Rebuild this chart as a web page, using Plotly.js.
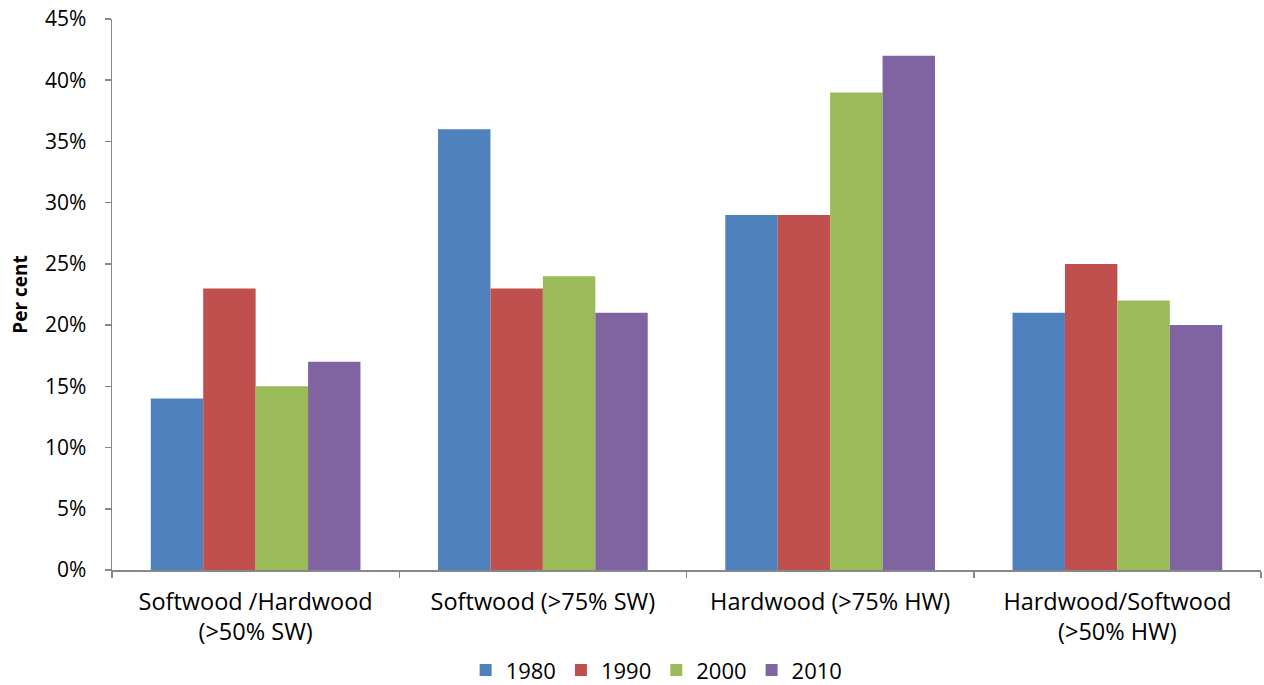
<!DOCTYPE html>
<html>
<head>
<meta charset="utf-8">
<script src="https://cdn.plot.ly/plotly-3.0.1.min.js"></script>
<style>
  html, body { margin: 0; padding: 0; background: #fff; }
  #chart { width: 1264px; height: 685px; }
</style>
</head>
<body>
<div id="chart"></div>
<script>
// Forest type shares by decade
const categories = [
  "Softwood /Hardwood<br>(>50% SW)",
  "Softwood (>75% SW)",
  "Hardwood (>75% HW)",
  "Hardwood/Softwood<br>(>50% HW)"
];
const years = ["1980", "1990", "2000", "2010"];
const values1980 = [14, 36, 29, 21];
const values1990 = [23, 23, 29, 25];
const values2000 = [15, 24, 39, 22];
const values2010 = [17, 21, 42, 20];
const yTicks = [0, 5, 10, 15, 20, 25, 30, 35, 40, 45];

const colors = ["#4F81BD", "#C0504D", "#9BBB59", "#8064A2"];
const series = [values1980, values1990, values2000, values2010];

const font = "Open Sans, Liberation Sans, sans-serif";
const ySize = 21;
const xSize = 23.5;
const legendSize = 22;

const traces = series.map((vals, i) => ({
  type: "bar",
  name: years[i],
  x: categories,
  y: vals,
  marker: { color: colors[i], line: { width: 0 } },
  hoverinfo: "x+y+name"
}));

const layout = {
  width: 1264,
  height: 685,
  margin: { l: 112, r: 3, t: 19, b: 115, autoexpand: false },
  paper_bgcolor: "#ffffff",
  plot_bgcolor: "#ffffff",
  barmode: "group",
  bargap: 0.27,
  bargroupgap: 0,
  font: { family: font, size: ySize, color: "#000" },
  xaxis: {
    type: "category",
    showline: true,
    linecolor: "#888888",
    linewidth: 1.5,
    ticks: "outside",
    tickson: "boundaries",
    ticklen: 6,
    tickcolor: "#888888",
    tickwidth: 1.5,
    showgrid: false,
    ticklabelstandoff: 10,
    tickfont: { family: font, size: xSize, color: "#000" },
    automargin: false
  },
  yaxis: {
    range: [0, 45],
    tickvals: yTicks,
    ticktext: yTicks.map(v => v + "%"),
    showline: true,
    linecolor: "#888888",
    linewidth: 1.5,
    ticks: "outside",
    ticklen: 6,
    tickcolor: "#888888",
    tickwidth: 1.5,
    showgrid: false,
    zeroline: false,
    ticklabelstandoff: 14,
    tickfont: { family: font, size: ySize, color: "#000" },
    title: { text: "<b>Per cent</b>", font: { family: font, size: 19, color: "#000" }, standoff: 12 },
    automargin: false
  },
  showlegend: true,
  legend: {
    orientation: "h",
    x: 0.474,
    xanchor: "center",
    y: -0.182,
    yanchor: "middle",
    font: { family: font, size: legendSize, color: "#000" },
    itemwidth: 30,
    tracegroupgap: 0,
    traceorder: "normal"
  }
};

Plotly.newPlot("chart", traces, layout, { displayModeBar: false, staticPlot: true });
</script>
</body>
</html>
